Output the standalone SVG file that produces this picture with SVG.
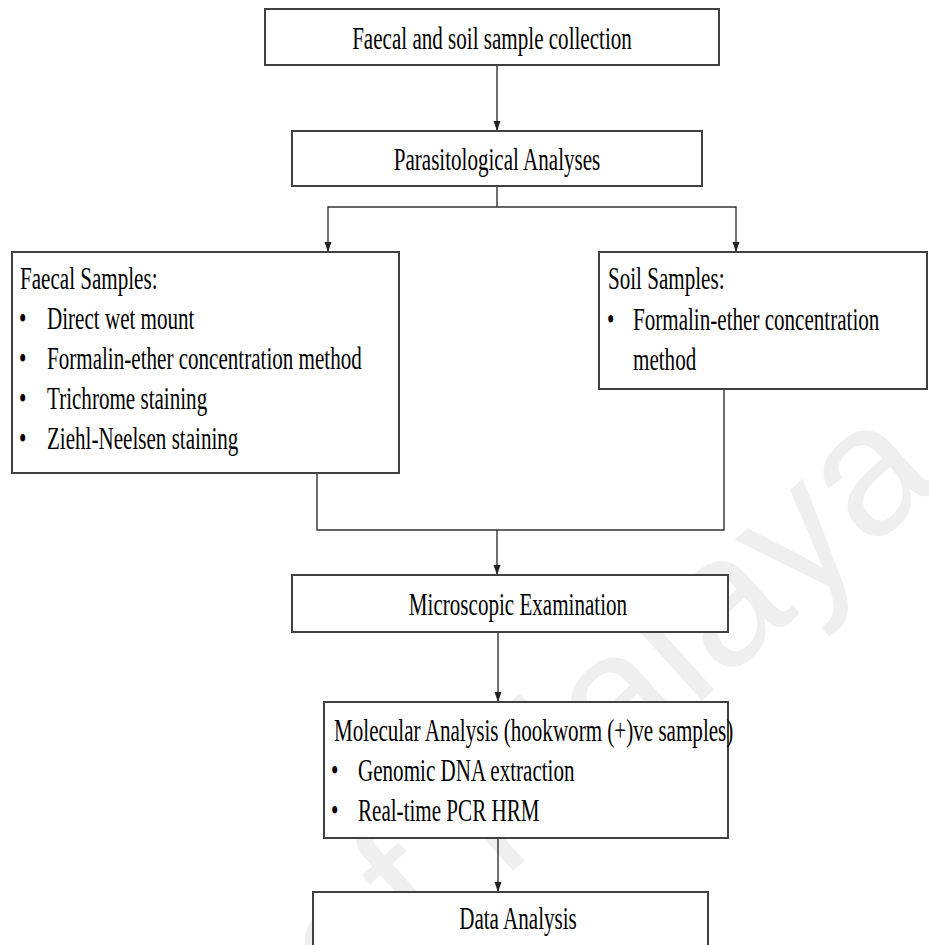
<svg xmlns="http://www.w3.org/2000/svg" width="929" height="945" viewBox="0 0 929 945">
  <style>
    .box { fill: #ffffff; stroke: #404040; stroke-width: 2; }
    .t { font-family: "Liberation Serif", "Times New Roman", serif; font-size: 31px; fill: #000000; }
    .c { text-anchor: middle; }
    .conn { fill: none; stroke: #333333; stroke-width: 1.4; }
    .wm { font-family: "Liberation Sans", Arial, sans-serif; font-size: 185px; fill: #efefef; text-anchor: end; }
  </style>
  <defs>
    <marker id="ah" markerUnits="userSpaceOnUse" markerWidth="11" markerHeight="8" refX="10" refY="4" orient="auto" viewBox="0 0 11 8">
      <path d="M0,0.5 L10,4 L0,7.5 Z" fill="#222222"/>
    </marker>
  </defs>

  <g id="watermark">
    <text class="wm" transform="translate(945,482) rotate(-42)">University of Malaya</text>
  </g>

  <g id="connectors">
    <path class="conn" d="M497,65 V131" marker-end="url(#ah)"/>
    <path class="conn" d="M497,186 V207"/>
    <path class="conn" d="M497,207 H328 V252" marker-end="url(#ah)"/>
    <path class="conn" d="M497,207 H736 V252" marker-end="url(#ah)"/>
    <path class="conn" d="M317,473 V530 H497"/>
    <path class="conn" d="M724,389 V530 H497"/>
    <path class="conn" d="M497,530 V575" marker-end="url(#ah)"/>
    <path class="conn" d="M498,632 V702" marker-end="url(#ah)"/>
    <path class="conn" d="M498,838 V892" marker-end="url(#ah)"/>
  </g>

  <g id="collection">
    <rect class="box" x="265" y="9" width="454" height="56"/>
    <text class="t c" transform="translate(492,49) scale(0.68,1)">Faecal and soil sample collection</text>
  </g>

  <g id="parasitological">
    <rect class="box" x="292" y="131" width="410" height="55"/>
    <text class="t c" transform="translate(497,170) scale(0.68,1)">Parasitological Analyses</text>
  </g>

  <g id="faecal">
    <rect class="box" x="12" y="252" width="387" height="221"/>
    <text class="t" transform="translate(20,289) scale(0.68,1)">Faecal Samples:</text>
    <text class="t" transform="translate(19,329) scale(0.68,1)">•</text>
    <text class="t" transform="translate(47,329) scale(0.68,1)">Direct wet mount</text>
    <text class="t" transform="translate(19,369) scale(0.68,1)">•</text>
    <text class="t" transform="translate(47,369) scale(0.68,1)">Formalin-ether concentration method</text>
    <text class="t" transform="translate(19,409) scale(0.68,1)">•</text>
    <text class="t" transform="translate(47,409) scale(0.68,1)">Trichrome staining</text>
    <text class="t" transform="translate(19,449) scale(0.68,1)">•</text>
    <text class="t" transform="translate(47,449) scale(0.68,1)">Ziehl-Neelsen staining</text>
  </g>

  <g id="soil">
    <rect class="box" x="599" y="252" width="328" height="137"/>
    <text class="t" transform="translate(608,289) scale(0.68,1)">Soil Samples:</text>
    <text class="t" transform="translate(607,330) scale(0.68,1)">•</text>
    <text class="t" transform="translate(633,330) scale(0.68,1)">Formalin-ether concentration</text>
    <text class="t" transform="translate(633,370) scale(0.68,1)">method</text>
  </g>

  <g id="microscopic">
    <rect class="box" x="292" y="575" width="436" height="57"/>
    <text class="t c" transform="translate(518,615) scale(0.68,1)">Microscopic Examination</text>
  </g>

  <g id="molecular">
    <rect class="box" x="324" y="702" width="404" height="136"/>
    <text class="t" transform="translate(334,741) scale(0.68,1)">Molecular Analysis (hookworm (+)ve samples)</text>
    <text class="t" transform="translate(331,781) scale(0.68,1)">•</text>
    <text class="t" transform="translate(358,781) scale(0.68,1)">Genomic DNA extraction</text>
    <text class="t" transform="translate(331,821) scale(0.68,1)">•</text>
    <text class="t" transform="translate(358,821) scale(0.68,1)">Real-time PCR HRM</text>
  </g>

  <g id="data">
    <rect class="box" x="313" y="892" width="395" height="80"/>
    <text class="t c" transform="translate(518,929) scale(0.68,1)">Data Analysis</text>
  </g>
</svg>
